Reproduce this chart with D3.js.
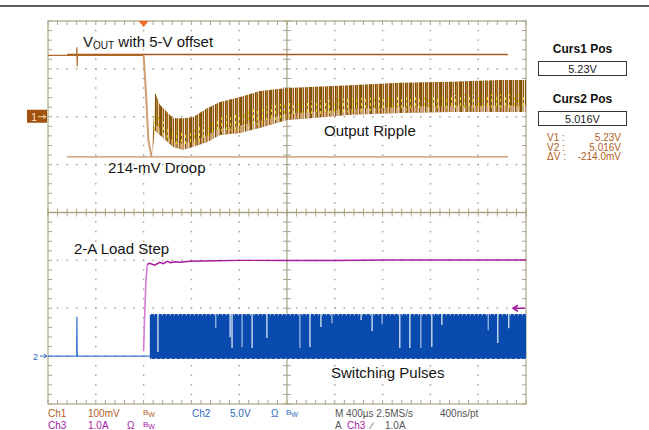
<!DOCTYPE html>
<html>
<head>
<meta charset="utf-8">
<script src="https://cdn.jsdelivr.net/npm/d3@7"></script>
<style>
  body { margin: 0; background: #fff; }
  svg { display: block; font-family: "Liberation Sans", Arial, sans-serif; }
</style>
</head>
<body>
<svg id="scope" width="649" height="430"></svg>
<script>
// time in divisions (400us/div), 10 divisions across
const ch1Times = [0, 0.60, 0.605, 0.61, 0.615, 2.0, 2.05, 2.10, 2.17];
const ch1Volts = [5.228, 5.228, 5.245, 5.205, 5.228, 5.228, 5.15, 5.05, 5.016];

// ripple band after the load step (upper / lower envelope, V)
const rippleTimes = [2.17, 2.24, 2.34, 2.62, 2.82, 3.03, 3.33, 3.60, 4.02, 4.44, 5.0, 5.48, 6.32, 7.36, 8.41, 9.46, 10];
const rippleHigh = [5.016, 5.150, 5.125, 5.097, 5.097, 5.099, 5.118, 5.131, 5.141, 5.154, 5.160, 5.162, 5.166, 5.171, 5.173, 5.177, 5.177];
const rippleLow = [5.016, 5.070, 5.062, 5.037, 5.031, 5.037, 5.047, 5.062, 5.066, 5.077, 5.093, 5.097, 5.104, 5.108, 5.110, 5.110, 5.110];

// ch2 switch node, 5 V/div
const ch2Times = [0, 0.60, 0.605, 0.61, 0.62, 2.13];
const ch2Volts = [0, 0, 4.1, 0.3, 0, 0];
const pulseStart = 2.13, pulseEnd = 10, pulseHigh = 4.4, pulseLow = -0.3;
const gapTimes = [2.30, 3.51, 3.81, 3.85, 4.06, 4.27, 4.58, 5.27, 5.48, 5.71, 5.94, 6.55, 6.78, 6.99, 7.36, 7.57, 7.80, 8.03, 8.24, 9.21, 9.41, 9.64];
const gapLevels = [0.42, 2.92, 1.98, 0.84, 0.94, 0.84, 1.88, 0.84, 0.94, 3.03, 3.44, 3.76, 2.61, 3.34, 0.84, 0.84, 0.84, 0.94, 3.24, 2.71, 1.36, 2.92];

// ch3 load current, 1 A/div
const ch3Times = [0, 1.99, 2.00, 2.02, 2.05, 2.08, 2.13, 2.23, 2.34, 2.41, 2.50, 2.56, 2.66, 2.76, 2.97, 3.5, 4.0, 5.0, 6.0, 7.0, 8.0, 9.0, 10.0];
const ch3Amps = [0, 0, 0.1, 0.8, 1.6, 1.92, 1.94, 1.90, 1.96, 1.93, 1.98, 1.95, 1.97, 1.96, 1.98, 1.99, 2.0, 2.0, 2.0, 2.01, 2.01, 2.01, 2.01];

const cursorVolts = [5.23, 5.016];
const cursorLabels = ["Curs1 Pos", "Curs2 Pos"];
const cursorValues = ["5.23V", "5.016V"];
const readoutNames = ["V1 :", "V2 :", "\u0394V :"];
const readoutValues = ["5.23V", "5.016V", "-214.0mV"];
const trigLevel = 1.0;

const svg = d3.select("#scope");

const x = d3.scaleLinear().domain([0, 10]).range([48, 526]);
const yDiv = d3.scaleLinear().domain([-4, 4]).range([404, 21]);
const yCh1 = d3.scaleLinear().domain([4.5, 5.3]).range([404, 21]);
const yCh2 = d3.scaleLinear().domain([-5, 35]).range([404, 21]);
const yCh3 = d3.scaleLinear().domain([-1, 7]).range([404, 21]);

const gridCol = "#aaa484";
const dotCol = "#a9a48a";

// top rule
svg.append("line").attr("x1", 0).attr("x2", 649).attr("y1", 6).attr("y2", 6)
  .attr("stroke", "#2a2a2a").attr("stroke-width", 1.6);

const defs = svg.append("defs");
const stripes = defs.append("pattern").attr("id", "ripple")
  .attr("patternUnits", "userSpaceOnUse").attr("width", 10).attr("height", 4);
["#8c4f06", "#6f5a08", "#d6ad88", "#9a5608", "#f2e8dc", "#7a4c04", "#b47a3a", "#8f6a10", "#e6cfb5", "#9c5a0e"]
  .forEach((c, i) => stripes.append("rect").attr("x", i).attr("y", 0).attr("width", 1).attr("height", 4).attr("fill", c));
const yel = defs.append("pattern").attr("id", "yel")
  .attr("patternUnits", "userSpaceOnUse").attr("width", 9).attr("height", 6);
yel.append("rect").attr("x", 1).attr("y", 1).attr("width", 1).attr("height", 3).attr("fill", "#e2e21a");
yel.append("rect").attr("x", 5).attr("y", 3).attr("width", 1).attr("height", 3).attr("fill", "#cfcf10");
const tan = defs.append("pattern").attr("id", "tan")
  .attr("patternUnits", "userSpaceOnUse").attr("width", 6).attr("height", 4);
tan.append("rect").attr("x", 0).attr("y", 0).attr("width", 2).attr("height", 4).attr("fill", "#d9b18e");
tan.append("rect").attr("x", 3).attr("y", 0).attr("width", 1).attr("height", 4).attr("fill", "#c99c74");

// graticule
const g = svg.append("g");
const minorX = d3.range(0, 51).map(i => i / 5);
const minorY = d3.range(0, 41).map(i => -4 + i / 5);

[1, 2, 3, 4, 6, 7, 8, 9].forEach(d => {
  g.selectAll(null).data(minorY.slice(1, -1)).enter().append("rect")
    .attr("x", x(d) - 0.75).attr("y", v => yDiv(v) - 0.75).attr("width", 1.5).attr("height", 1.5).attr("fill", dotCol);
});
[-3, -2, -1, 1, 2, 3].forEach(d => {
  g.selectAll(null).data(minorX.slice(1, -1)).enter().append("rect")
    .attr("x", v => x(v) - 0.75).attr("y", yDiv(d) - 0.75).attr("width", 1.5).attr("height", 1.5).attr("fill", dotCol);
});

g.append("rect").attr("x", x(0)).attr("y", yDiv(4)).attr("width", x(10) - x(0)).attr("height", yDiv(-4) - yDiv(4))
  .attr("fill", "none").attr("stroke", gridCol).attr("stroke-width", 1.2);
g.append("line").attr("x1", x(5)).attr("x2", x(5)).attr("y1", yDiv(4)).attr("y2", yDiv(-4))
  .attr("stroke", gridCol).attr("stroke-width", 1.2);
g.append("line").attr("x1", x(0)).attr("x2", x(10)).attr("y1", yDiv(0)).attr("y2", yDiv(0))
  .attr("stroke", gridCol).attr("stroke-width", 1.4);

g.selectAll(".tx").data(minorX).enter().append("path").attr("class", "tx")
  .attr("d", v => `M${x(v)},${yDiv(4)}v4M${x(v)},${yDiv(-4)}v-4M${x(v)},${yDiv(0) - 4}v8`)
  .attr("stroke", gridCol).attr("stroke-width", 1);
g.selectAll(".ty").data(minorY).enter().append("path").attr("class", "ty")
  .attr("d", v => `M${x(0)},${yDiv(v)}h4M${x(10)},${yDiv(v)}h-4M${x(5) - 4},${yDiv(v)}h8`)
  .attr("stroke", gridCol).attr("stroke-width", 1);

// ch3 load current (under ch2)
const ch3Data = ch3Times.map((t, i) => [t, ch3Amps[i]]);
svg.append("path").datum(ch3Data.slice(2, 6))
  .attr("d", d3.line().x(d => x(d[0])).y(d => yCh3(d[1])))
  .attr("fill", "none").attr("stroke", "#d57ad5").attr("stroke-width", 1.6);
svg.append("path").datum(ch3Data.slice(5))
  .attr("d", d3.line().x(d => x(d[0])).y(d => yCh3(d[1])))
  .attr("fill", "none").attr("stroke", "#a5199f").attr("stroke-width", 1.5);

// ch2 switching
const ch2Data = ch2Times.map((t, i) => [t, ch2Volts[i]]);
svg.append("path").datum(ch2Data)
  .attr("d", d3.line().x(d => x(d[0])).y(d => yCh2(d[1])))
  .attr("fill", "none").attr("stroke", "#3b78cf").attr("stroke-width", 1.3);
svg.append("rect").attr("x", x(pulseStart)).attr("y", yCh2(pulseHigh))
  .attr("width", x(pulseEnd) - x(pulseStart)).attr("height", yCh2(pulseLow) - yCh2(pulseHigh))
  .attr("fill", "#084aad");
svg.append("line").attr("x1", x(pulseStart)).attr("x2", x(pulseEnd))
  .attr("y1", yCh2(pulseHigh) + 0.5).attr("y2", yCh2(pulseHigh) + 0.5)
  .attr("stroke", "#dfe8f6").attr("stroke-width", 1.5).attr("stroke-dasharray", "1,3");
svg.append("line").attr("x1", x(pulseStart)).attr("x2", x(pulseEnd))
  .attr("y1", yCh2(pulseLow) - 0.5).attr("y2", yCh2(pulseLow) - 0.5)
  .attr("stroke", "#7ea3dc").attr("stroke-width", 1).attr("stroke-dasharray", "2,3");
svg.selectAll(".gap").data(gapTimes).enter().append("line").attr("class", "gap")
  .attr("x1", t => x(t)).attr("x2", t => x(t))
  .attr("y1", yCh2(pulseHigh)).attr("y2", (t, i) => yCh2(gapLevels[i]))
  .attr("stroke", (t, i) => i % 3 === 1 ? "#a9c0e6" : "#eef3fb").attr("stroke-width", 1.2);

// ch3 trigger level marker
const ty = yCh3(trigLevel);
svg.append("path").attr("d", `M${x(10) - 1},${ty}H${x(10) - 13}m5,-3l-5,3l5,3`)
  .attr("fill", "none").attr("stroke", "#a5199f").attr("stroke-width", 1.5);

// cursors
svg.selectAll(".curs").data(cursorVolts).enter().append("line").attr("class", "curs")
  .attr("x1", x(0.4)).attr("x2", x(9.62))
  .attr("y1", v => yCh1(v)).attr("y2", v => yCh1(v))
  .attr("stroke", (v, i) => i === 0 ? "#a8581a" : "#c39065").attr("stroke-width", 1.3);

// ch1 output voltage
const ch1Data = ch1Times.map((t, i) => [t, ch1Volts[i]]);
svg.append("path").datum(ch1Data.slice(0, 6))
  .attr("d", d3.line().x(d => x(d[0])).y(d => yCh1(d[1])))
  .attr("fill", "none").attr("stroke", "#b06a2a").attr("stroke-width", 1.2);
svg.append("path").datum(ch1Data.slice(5))
  .attr("d", d3.line().x(d => x(d[0])).y(d => yCh1(d[1])))
  .attr("fill", "none").attr("stroke", "#cf9d72").attr("stroke-width", 2);
const band = rippleTimes.map((t, i) => ({ t: t, hi: rippleHigh[i], lo: rippleLow[i] }));
svg.append("path").datum(band)
  .attr("d", d3.area().x(d => x(d.t)).y0(d => yCh1(d.lo)).y1(d => yCh1(d.hi)))
  .attr("fill", "url(#ripple)");
svg.append("path").datum(band)
  .attr("d", d3.area().x(d => x(d.t)).y0(d => yCh1(d.lo)).y1(d => yCh1(d.lo + 0.2 * (d.hi - d.lo))))
  .attr("fill", "url(#tan)").attr("opacity", 0.8);
svg.append("path").datum(band)
  .attr("d", d3.area().x(d => x(d.t)).y0(d => yCh1(d.lo + 0.1 * (d.hi - d.lo))).y1(d => yCh1(d.lo + 0.55 * (d.hi - d.lo))))
  .attr("fill", "url(#yel)");

// trigger position marker
svg.append("path").attr("d", `M${x(2) - 5},${yDiv(4)}h10l-5,6z`).attr("fill", "#f26a22");

// channel markers
svg.append("rect").attr("x", 27).attr("y", yCh1(5.1) - 7).attr("width", 20).attr("height", 13).attr("fill", "#a2520c");
svg.append("text").attr("x", 31).attr("y", yCh1(5.1) + 4).attr("font-size", 11).attr("fill", "#f4dcc4").text("1");
svg.append("path").attr("d", `M38,${yCh1(5.1)}h8m-3,-2l3,2l-3,2`).attr("fill", "none").attr("stroke", "#f4dcc4").attr("stroke-width", 1);
svg.append("text").attr("x", 33).attr("y", yCh2(0) + 3.5).attr("font-size", 9).attr("fill", "#2f68c0").text("2");
svg.append("path").attr("d", `M40,${yCh2(0)}h7m-3,-2l3,2l-3,2`).attr("fill", "none").attr("stroke", "#2f68c0").attr("stroke-width", 1);

// annotations
const note = svg.append("g").attr("font-size", 15).attr("fill", "#151515");
const vout = note.append("text").attr("x", 83).attr("y", 47);
vout.append("tspan").text("V");
vout.append("tspan").attr("font-size", 10).attr("dy", 2).text("OUT");
vout.append("tspan").attr("dy", -2).text(" with 5-V offset");
note.append("text").attr("x", 108).attr("y", 173).text("214-mV Droop");
note.append("text").attr("x", 324).attr("y", 136).text("Output Ripple");
note.append("text").attr("x", 74).attr("y", 254).text("2-A Load Step");
note.append("text").attr("x", 331).attr("y", 378).text("Switching Pulses");

// cursor readout panel
const panel = svg.append("g");
cursorLabels.forEach((lab, i) => {
  const top = i === 0 ? 61 : 111;
  panel.append("text").attr("x", 582.5).attr("y", top - 8).attr("text-anchor", "middle")
    .attr("font-size", 12).attr("font-weight", "bold").attr("fill", "#111").text(lab);
  panel.append("rect").attr("x", 538.5).attr("y", top + 0.5).attr("width", 88).attr("height", 14)
    .attr("fill", "#fff").attr("stroke", "#333").attr("stroke-width", 1);
  panel.append("text").attr("x", 582.5).attr("y", top + 11.5).attr("text-anchor", "middle")
    .attr("font-size", 11).attr("fill", "#222").text(cursorValues[i]);
});
readoutNames.forEach((n, i) => {
  panel.append("text").attr("x", 547).attr("y", 141 + i * 9.5).attr("font-size", 10).attr("fill", "#b0601c").text(n);
  panel.append("text").attr("x", 621).attr("y", 141 + i * 9.5).attr("text-anchor", "end")
    .attr("font-size", 10).attr("fill", "#b0601c").text(readoutValues[i]);
});

// bottom status rows
const status = [
  ["Ch1", 48, 417, "#b0601c"], ["100mV", 88, 417, "#b0601c"], ["Ch2", 192, 417, "#2f68c0"],
  ["5.0V", 230, 417, "#2f68c0"], ["\u03a9", 271, 417, "#2f68c0"],
  ["M 400\u00b5s 2.5MS/s", 335, 417, "#555"], ["400ns/pt", 440, 417, "#555"],
  ["Ch3", 48, 429, "#a5199f"], ["1.0A", 88, 429, "#a5199f"], ["\u03a9", 127, 429, "#a5199f"],
  ["A", 335, 429, "#555"], ["Ch3", 347, 429, "#a5199f"], ["\u2215", 371, 429, "#555"], ["1.0A", 385, 429, "#555"]
];
svg.selectAll(".st").data(status).enter().append("text").attr("class", "st")
  .attr("x", d => d[1]).attr("y", d => d[2]).attr("fill", d => d[3]).attr("font-size", 10).text(d => d[0]);
const bw = [[143, 415, "#b0601c"], [286, 415, "#2f68c0"], [143, 427, "#a5199f"]];
bw.forEach(b => {
  const t = svg.append("text").attr("x", b[0]).attr("y", b[1]).attr("fill", b[2]).attr("font-size", 8);
  t.append("tspan").text("B");
  t.append("tspan").attr("dy", 2).attr("font-size", 7).text("W");
});
</script>
</body>
</html>
